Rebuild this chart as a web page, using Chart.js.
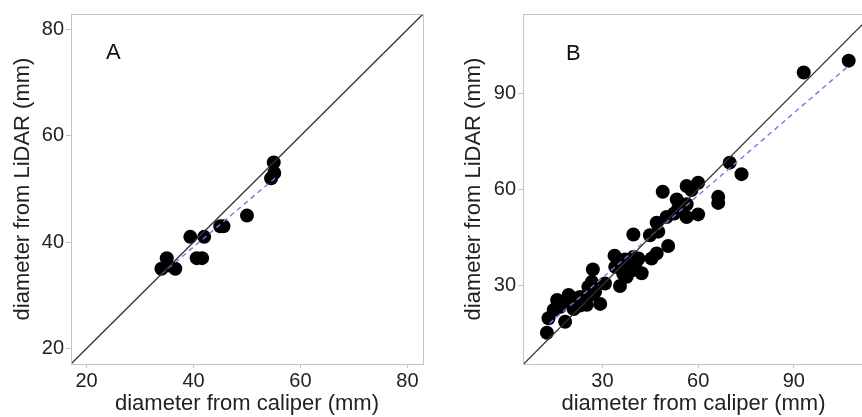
<!DOCTYPE html>
<html><head><meta charset="utf-8">
<script src="https://cdn.jsdelivr.net/npm/chart.js@4"></script>
<style>
html,body{margin:0;padding:0;width:862px;height:417px;overflow:hidden;background:#fff}
#wa{position:absolute;left:0;top:0;width:431px;height:417px}
#wb{position:absolute;left:431px;top:0;width:440px;height:417px}
</style></head><body>
<div id="wa"><canvas id="ca"></canvas></div>
<div id="wb"><canvas id="cb"></canvas></div>
<script>
// Panel A data
const aCaliper = [34.0, 35.0, 36.6, 35.2, 39.4, 42.0, 40.6, 41.6, 45.0, 45.6, 50.0, 55.0, 55.1, 54.5];
const aLidar   = [35.0, 37.0, 35.0, 35.6, 41.0, 41.0, 37.0, 37.0, 43.0, 43.0, 45.0, 55.0, 53.0, 52.0];
const aFitX = [34.0, 55.3];
const aFitY = [34.0, 52.1];
const aRange = [17.1, 82.9];
const aTicks = [20, 40, 60, 80];

// Panel B data
const bCaliper = [12.6, 13.1, 14.7, 15.8, 16.8, 18.3, 19.4, 19.4, 21.5, 23.0, 23.0, 24.6, 25.1, 25.6, 26.7, 27.0, 27.7, 29.3, 30.8,
  21.0, 24.5, 26.5, 33.8, 34.0, 35.5, 35.5, 37.6, 38.7, 39.7, 39.7, 39.7, 41.3, 42.3, 36.5, 38.0, 40.5, 37.0,
  44.9, 45.4, 47.0, 47.0, 47.5, 48.9, 50.1, 50.6, 52.5, 53.3, 53.8, 56.4, 56.4, 56.4, 57.9, 60.0, 60.0, 66.3, 66.3,
  69.9, 73.6, 93.1, 107.2];
const bLidar   = [15.1, 19.6, 22.2, 25.3, 23.2, 18.5, 26.9, 24.3, 25.8, 26.3, 23.6, 26.3, 23.8, 29.5, 31.0, 34.9, 27.9, 24.1, 30.5,
  22.5, 24.5, 27.0, 39.2, 35.7, 36.3, 29.7, 32.6, 36.8, 38.8, 34.7, 45.8, 38.3, 33.7, 33.5, 35.5, 37.0, 38.0,
  45.6, 38.3, 39.9, 49.5, 46.7, 59.2, 51.3, 42.2, 52.4, 56.8, 54.0, 61.0, 55.3, 51.3, 59.7, 62.0, 52.1, 57.6, 55.7,
  68.3, 64.7, 96.5, 100.2];
const bFitX = [13.4, 107.2];
const bFitY = [18.0, 98.6];
const bRangeX = [5.1, 112];
const bRangeY = [5.3, 114.8];
const bIdentity = [5, 115];
const bTicks = [30, 60, 90];

const xTitle = 'diameter from caliper (mm)';
const yTitle = 'diameter from LiDAR (mm)';
const FONT = "'Liberation Sans', Arial, sans-serif";
const GRAY = '#c4c4c4';

const pts = (xs, ys) => xs.map((x, i) => ({x, y: ys[i]}));

function panelPlugin(letter, dx, dy) {
  return {
    id: 'panel' + letter,
    afterDraw(chart) {
      const {ctx, chartArea: a} = chart;
      ctx.save();
      ctx.strokeStyle = GRAY;
      ctx.lineWidth = 1;
      ctx.strokeRect(Math.round(a.left) + 0.5, Math.round(a.top) + 0.5, Math.round(a.right - a.left), Math.round(a.bottom - a.top));
      ctx.fillStyle = '#111';
      ctx.font = '22px ' + FONT;
      ctx.textBaseline = 'middle';
      ctx.textAlign = 'left';
      ctx.fillText(letter, a.left + dx, a.top + dy);
      ctx.restore();
    }
  };
}

function makeChart(id, cfg) {
  const fixTicks = (vals) => (scale) => { scale.ticks = vals.map(v => ({value: v})); };
  return new Chart(document.getElementById(id), {
    type: 'scatter',
    data: {
      datasets: [
        { data: pts(cfg.idX, cfg.idY), showLine: true, borderColor: '#333', borderWidth: 1.3, pointRadius: 0, pointHoverRadius: 0 },
        { data: pts(cfg.fitX, cfg.fitY), showLine: true, borderColor: '#6f7ee6', borderWidth: 1.4, borderDash: [5, 4], pointRadius: 0, pointHoverRadius: 0 },
        { data: pts(cfg.xs, cfg.ys), showLine: false, backgroundColor: '#000', borderColor: '#000', pointRadius: 7, borderWidth: 0 }
      ]
    },
    options: {
      responsive: true, maintainAspectRatio: false, animation: false, devicePixelRatio: 1,
      layout: { padding: cfg.pad },
      plugins: { legend: { display: false }, tooltip: { enabled: false } },
      scales: {
        x: {
          type: 'linear', min: cfg.xRange[0], max: cfg.xRange[1],
          afterBuildTicks: fixTicks(cfg.xTicks),
          afterFit: (s) => { s.height = 53; },
          grid: { display: true, drawOnChartArea: false, drawTicks: true, tickLength: 4, color: GRAY },
          border: { display: true, color: GRAY },
          ticks: { color: '#222', font: { family: FONT, size: 20 }, padding: 1, maxRotation: 0 },
          title: { display: true, text: xTitle, color: '#222', font: { family: FONT, size: 22 }, padding: 0 }
        },
        y: {
          type: 'linear', min: cfg.yRange[0], max: cfg.yRange[1],
          afterBuildTicks: fixTicks(cfg.yTicks),
          afterFit: (s) => { s.width = cfg.yWidth; },
          grid: { display: true, drawOnChartArea: false, drawTicks: true, tickLength: 5, color: GRAY },
          border: { display: true, color: GRAY },
          ticks: { color: '#222', font: { family: FONT, size: 20 }, padding: 2 },
          title: { display: true, text: yTitle, color: '#222', font: { family: FONT, size: 22 }, padding: { top: cfg.yTitlePad, bottom: 0 } }
        }
      }
    },
    plugins: [panelPlugin(cfg.letter, cfg.lx, cfg.ly)]
  });
}

makeChart('ca', {
  xs: aCaliper, ys: aLidar, fitX: aFitX, fitY: aFitY, idX: aRange, idY: aRange,
  xRange: aRange, yRange: aRange, xTicks: aTicks, yTicks: aTicks,
  pad: { top: 14, right: 8, left: 0, bottom: 0 }, yWidth: 71, yTitlePad: 10,
  letter: 'A', lx: 35, ly: 39
});
makeChart('cb', {
  xs: bCaliper, ys: bLidar, fitX: bFitX, fitY: bFitY, idX: bIdentity, idY: bIdentity,
  xRange: bRangeX, yRange: bRangeY, xTicks: bTicks, yTicks: bTicks,
  pad: { top: 13, right: 6, left: 0, bottom: 0 }, yWidth: 92, yTitlePad: 30,
  letter: 'B', lx: 43, ly: 40
});
</script>
</body></html>
